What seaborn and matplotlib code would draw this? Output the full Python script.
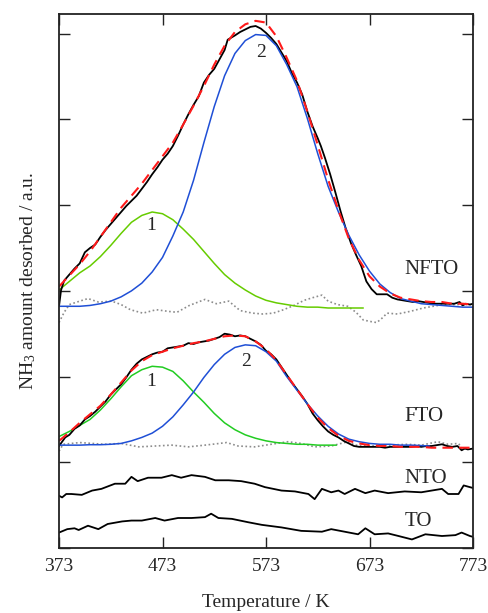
import matplotlib
matplotlib.use("Agg")
import matplotlib.pyplot as plt
import seaborn as sns

# temperature grids (K)
t_fit = list(range(373, 774, 10))
t_nfto_p1 = list(range(373, 664, 10)) + [667]
t_fto_p1 = list(range(373, 634, 10)) + [641]
t_fto_p2 = list(range(373, 724, 10)) + [731]

# NFTO
t_nfto_exp = [373, 375, 378, 383, 388, 393, 398, 403, 408, 413, 418, 423, 428, 433, 438, 443, 448, 453, 458, 463,
              468, 473, 478, 483, 488, 493, 498, 503, 508, 513, 518, 523, 528, 533, 536, 543, 548, 553, 558, 563,
              568, 573, 578, 583, 588, 593, 598, 603, 608, 613, 618, 623, 626, 630, 635, 640, 645, 650, 655, 660,
              665, 670, 675, 680, 685, 690, 695, 700, 705, 710, 715, 720, 725, 730, 735, 740, 745, 750, 755, 760,
              763, 766, 770, 773]
nfto_exp = [2.82, 3.01, 3.12, 3.19, 3.26, 3.32, 3.45, 3.50, 3.54, 3.63, 3.71, 3.78, 3.85, 3.92, 3.99, 4.05, 4.11, 4.19, 4.27, 4.36,
            4.44, 4.53, 4.60, 4.69, 4.81, 4.94, 5.06, 5.17, 5.27, 5.43, 5.52, 5.59, 5.70, 5.81, 5.93, 5.98, 6.02, 6.05, 6.08, 6.09,
            6.06, 6.01, 5.95, 5.88, 5.78, 5.68, 5.54, 5.43, 5.29, 5.09, 4.92, 4.78, 4.69, 4.55, 4.36, 4.15, 3.93, 3.73, 3.56, 3.42,
            3.29, 3.11, 3.02, 2.96, 2.96, 2.96, 2.92, 2.90, 2.89, 2.88, 2.87, 2.88, 2.87, 2.86, 2.85, 2.85, 2.85, 2.85, 2.85, 2.87,
            2.83, 2.85, 2.84, 2.85]
nfto_fit = [3.05, 3.18, 3.31, 3.46, 3.63, 3.80, 3.97, 4.11, 4.25, 4.41, 4.57, 4.73, 4.94, 5.16, 5.39, 5.64, 5.86, 6.02, 6.11, 6.15,
            6.13, 5.97, 5.72, 5.45, 5.09, 4.70, 4.30, 3.94, 3.61, 3.36, 3.17, 3.05, 2.97, 2.92, 2.90, 2.88, 2.87, 2.87, 2.85, 2.85, 2.84]
nfto_p1 = [3.01, 3.11, 3.21, 3.29, 3.40, 3.53, 3.67, 3.80, 3.88, 3.92, 3.90, 3.83, 3.72, 3.60, 3.46, 3.32, 3.19, 3.09, 3.01, 2.94,
           2.89, 2.86, 2.84, 2.82, 2.81, 2.81, 2.80, 2.80, 2.80, 2.80, 2.80]
nfto_p2 = [2.82, 2.82, 2.82, 2.83, 2.85, 2.88, 2.93, 3.00, 3.09, 3.22, 3.39, 3.64, 3.92, 4.29, 4.73, 5.15, 5.51, 5.77, 5.92, 5.99,
           5.98, 5.86, 5.64, 5.38, 5.01, 4.60, 4.22, 3.92, 3.65, 3.42, 3.23, 3.08, 2.98, 2.91, 2.88, 2.85, 2.84, 2.83, 2.82, 2.81, 2.81]
t_nfto_res = [373, 378, 383, 393, 401, 411, 424, 433, 442, 454, 467, 479, 487, 499, 514, 525, 537, 548, 560, 570,
              580, 590, 600, 610, 618, 627, 633, 642, 652, 660, 667, 675, 680, 685, 690, 700, 712, 725, 744, 764, 773]
nfto_res = [2.63, 2.75, 2.84, 2.88, 2.91, 2.87, 2.88, 2.84, 2.78, 2.74, 2.78, 2.76, 2.75, 2.83, 2.90, 2.85, 2.88, 2.77, 2.74, 2.73,
            2.74, 2.78, 2.83, 2.89, 2.92, 2.95, 2.88, 2.84, 2.82, 2.75, 2.66, 2.64, 2.63, 2.68, 2.74, 2.73, 2.76, 2.80, 2.84, 2.84, 2.84]

# FTO
t_fto_exp = [373, 376, 379, 383, 388, 393, 398, 403, 408, 413, 418, 423, 428, 433, 438, 443, 448, 453, 458, 463,
             468, 473, 478, 483, 488, 493, 498, 503, 508, 513, 518, 523, 528, 533, 538, 543, 548, 553, 558, 563,
             568, 573, 578, 583, 588, 593, 598, 603, 608, 613, 618, 623, 628, 633, 638, 643, 648, 653, 658, 663,
             668, 673, 678, 683, 688, 693, 698, 703, 708, 713, 718, 723, 728, 733, 738, 743, 748, 753, 758, 762,
             765, 768, 773]
fto_exp = [1.19, 1.24, 1.29, 1.32, 1.39, 1.43, 1.50, 1.54, 1.59, 1.65, 1.71, 1.79, 1.85, 1.91, 1.99, 2.08, 2.15, 2.20, 2.23, 2.26,
           2.28, 2.29, 2.33, 2.34, 2.35, 2.36, 2.39, 2.38, 2.40, 2.41, 2.42, 2.44, 2.46, 2.50, 2.49, 2.47, 2.48, 2.47, 2.44, 2.41,
           2.37, 2.30, 2.26, 2.20, 2.11, 2.02, 1.93, 1.85, 1.77, 1.68, 1.57, 1.49, 1.42, 1.36, 1.32, 1.29, 1.25, 1.22, 1.19, 1.18,
           1.18, 1.18, 1.18, 1.18, 1.17, 1.18, 1.18, 1.18, 1.18, 1.18, 1.19, 1.18, 1.19, 1.19, 1.20, 1.21, 1.19, 1.18, 1.19, 1.14,
           1.16, 1.15, 1.16]
fto_fit = [1.25, 1.35, 1.46, 1.56, 1.66, 1.79, 1.93, 2.07, 2.18, 2.25, 2.29, 2.33, 2.36, 2.39, 2.41, 2.44, 2.47, 2.48, 2.47, 2.41,
           2.32, 2.19, 2.02, 1.85, 1.68, 1.52, 1.40, 1.31, 1.25, 1.22, 1.20, 1.19, 1.19, 1.18, 1.18, 1.18, 1.17, 1.17, 1.17, 1.17, 1.17]
fto_p1 = [1.30, 1.36, 1.43, 1.50, 1.61, 1.74, 1.88, 2.01, 2.08, 2.12, 2.11, 2.06, 1.95, 1.82, 1.70, 1.57, 1.46, 1.38, 1.32, 1.28,
          1.25, 1.23, 1.22, 1.21, 1.21, 1.20, 1.20, 1.20]
fto_p2 = [1.20, 1.20, 1.20, 1.205, 1.205, 1.21, 1.22, 1.25, 1.29, 1.34, 1.42, 1.53, 1.67, 1.82, 1.99, 2.14, 2.26, 2.34, 2.37, 2.36,
          2.29, 2.18, 2.00, 1.84, 1.68, 1.54, 1.42, 1.33, 1.27, 1.24, 1.22, 1.21, 1.21, 1.20, 1.20, 1.195, 1.19]
t_fto_res = [373, 377, 393, 417, 433, 450, 466, 482, 498, 514, 535, 546, 562, 578, 594, 607, 620, 636, 652, 659,
             675, 691, 710, 723, 739, 749, 759, 763, 767]
fto_res = [1.13, 1.21, 1.23, 1.21, 1.22, 1.18, 1.19, 1.20, 1.18, 1.20, 1.23, 1.19, 1.18, 1.21, 1.24, 1.22, 1.18, 1.19, 1.24, 1.20,
           1.19, 1.20, 1.21, 1.20, 1.24, 1.21, 1.22, 1.15, 1.17]

# NTO and TO
t_nto = [373, 376, 380, 385, 395, 405, 414, 427, 437, 443, 449, 459, 472, 482, 491, 501, 514, 524, 537, 549,
         562, 572, 588, 601, 614, 620, 627, 636, 643, 649, 659, 669, 678, 691, 707, 723, 743, 749, 759, 764, 770, 773]
nto = [0.61, 0.59, 0.63, 0.63, 0.62, 0.67, 0.69, 0.75, 0.75, 0.83, 0.78, 0.82, 0.82, 0.85, 0.82, 0.85, 0.83, 0.79, 0.79, 0.78,
       0.75, 0.71, 0.67, 0.66, 0.63, 0.57, 0.69, 0.65, 0.67, 0.63, 0.69, 0.64, 0.67, 0.64, 0.66, 0.65, 0.69, 0.63, 0.63, 0.73, 0.71, 0.70]
t_to = [373, 381, 388, 392, 401, 411, 420, 434, 443, 453, 466, 475, 488, 501, 514, 520, 527, 540, 556, 569,
        588, 607, 627, 636, 649, 662, 669, 678, 691, 701, 714, 727, 743, 756, 762, 770, 773]
to = [0.18, 0.22, 0.23, 0.21, 0.26, 0.22, 0.28, 0.31, 0.32, 0.32, 0.35, 0.32, 0.35, 0.35, 0.36, 0.40, 0.35, 0.34, 0.30, 0.27,
      0.24, 0.20, 0.19, 0.22, 0.19, 0.16, 0.23, 0.16, 0.17, 0.14, 0.10, 0.16, 0.14, 0.15, 0.18, 0.14, 0.13]

sample_names = ["NFTO", "FTO", "NTO", "TO"]
sample_label_y = [3.25, 1.53, 0.81, 0.31]
peak_names = ["1", "2", "1", "2"]
peak_label_t = [462, 568, 462, 554]
peak_label_y = [3.76, 5.78, 1.94, 2.18]

sns.set_style("ticks")
plt.rcParams["font.family"] = ["Liberation Serif", "DejaVu Serif"]
plt.rcParams["mathtext.default"] = "regular"

fig = plt.figure(figsize=(4.89, 6.13), dpi=100)
ax = fig.add_axes([59 / 489, 1 - 548 / 613, 414 / 489, 534 / 613])

blue = "#1f4fd6"
kw = dict(ax=ax, estimator=None, sort=False, legend=False)

# NFTO
sns.lineplot(x=t_nfto_res, y=nfto_res, color="#8c8c8c", lw=1.2, linestyle=(0, (1, 1.5)), **kw)
sns.lineplot(x=t_nfto_p1, y=nfto_p1, color="#66cc00", lw=1.1, **kw)
sns.lineplot(x=t_nfto_exp, y=nfto_exp, color="black", lw=1.3, **kw)
sns.lineplot(x=t_fit, y=nfto_p2, color=blue, lw=1.1, **kw)
sns.lineplot(x=t_fit, y=nfto_fit, color="#ff1a1a", lw=1.5, linestyle=(0, (5, 3)), **kw)

# FTO
sns.lineplot(x=t_fto_res, y=fto_res, color="#8c8c8c", lw=1.2, linestyle=(0, (1, 1.5)), **kw)
sns.lineplot(x=t_fto_p1, y=fto_p1, color="#22cc22", lw=1.1, **kw)
sns.lineplot(x=t_fto_exp, y=fto_exp, color="black", lw=1.3, **kw)
sns.lineplot(x=t_fto_p2, y=fto_p2, color=blue, lw=1.1, **kw)
sns.lineplot(x=t_fit, y=fto_fit, color="#ff1a1a", lw=1.5, linestyle=(0, (5, 3)), **kw)

# NTO, TO
sns.lineplot(x=t_nto, y=nto, color="black", lw=1.3, **kw)
sns.lineplot(x=t_to, y=to, color="black", lw=1.3, **kw)

for name, yy in zip(sample_names, sample_label_y):
    ax.text(707, yy, name, fontsize=15, ha="left", va="center")
for name, tt, yy in zip(peak_names, peak_label_t, peak_label_y):
    ax.text(tt, yy, name, fontsize=14, ha="center", va="center")

ax.set_xlim(373, 773)
ax.set_ylim(0, 6.23)
ax.set_xticks([373, 473, 573, 673, 773])
ax.set_yticks([0, 1, 2, 3, 4, 5, 6])
ax.set_yticklabels([])
ax.tick_params(axis="both", direction="in", length=8, width=1, color="#222222",
               top=True, right=True, labelsize=14, pad=7)
for sp in ax.spines.values():
    sp.set_linewidth(1.3)
    sp.set_color("#222222")

ax.set_xlabel("Temperature / K", fontsize=14, labelpad=14)
ax.set_ylabel("NH$_3$ amount desorbed / a.u.", fontsize=14, labelpad=8)

fig.savefig("out.png", dpi=100)
